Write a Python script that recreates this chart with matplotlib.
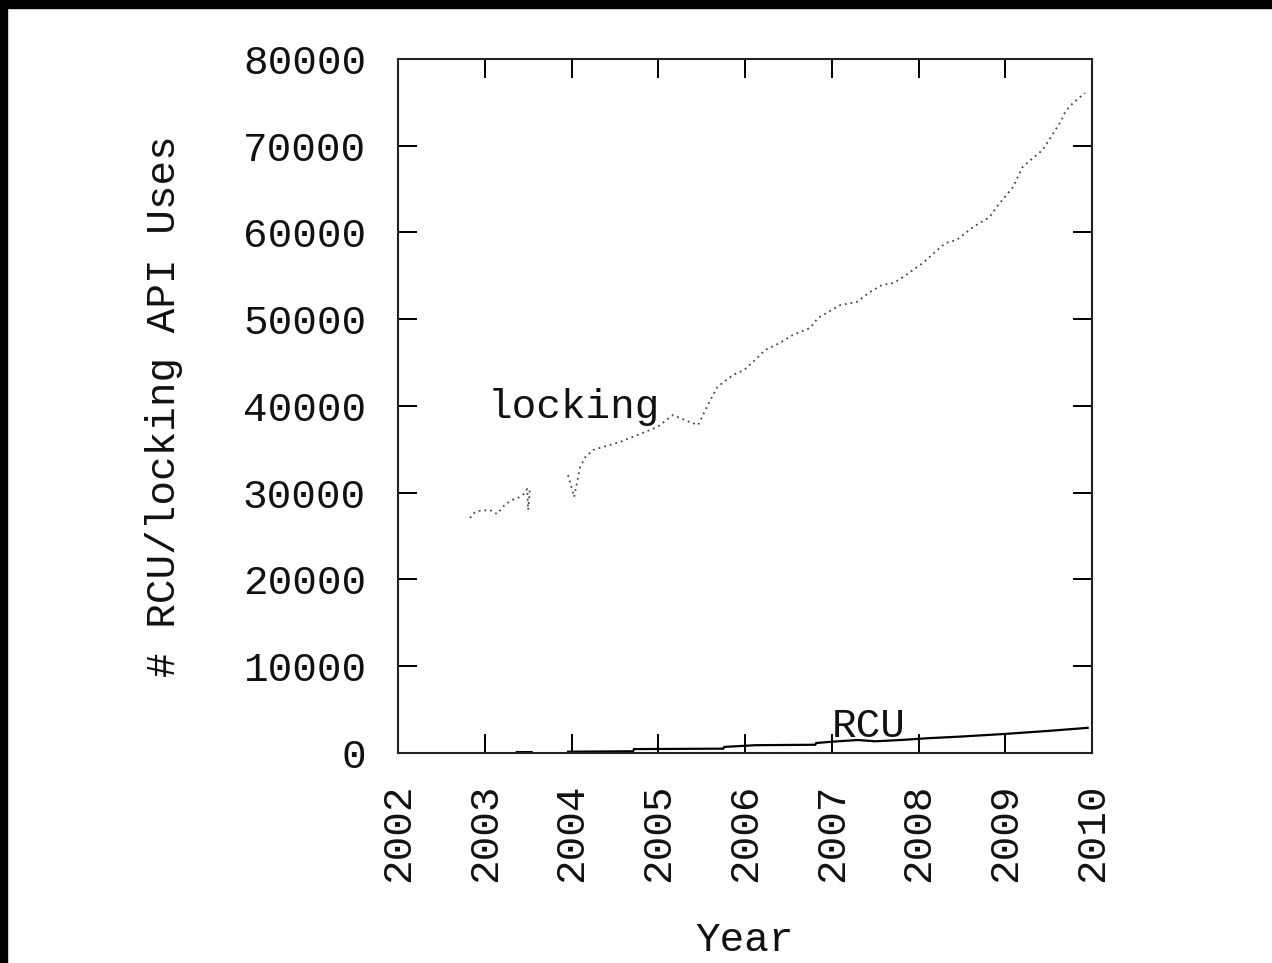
import numpy as np
import matplotlib
matplotlib.use("Agg")
import matplotlib.pyplot as plt
from matplotlib.patches import Rectangle

# ---- data ----
locking_year = [2002.83, 2002.876, 2002.922, 2003.06, 2003.14, 2003.23, 2003.31, 2003.38,
                2003.45, 2003.49, 2003.50, 2003.52, np.nan,
                2003.96, 2004.03, 2004.10, 2004.16, 2004.25, 2004.36, 2004.56, 2004.76,
                2004.99, 2005.17, 2005.33, 2005.46, 2005.56, 2005.68, 2005.86, 2005.99,
                2006.14, 2006.23, 2006.40, 2006.55, 2006.75, 2006.84, 2006.96, 2007.10,
                2007.29, 2007.44, 2007.58, 2007.71, 2007.79, 2008.05, 2008.31, 2008.44,
                2008.63, 2008.82, 2008.90, 2009.09, 2009.20, 2009.32, 2009.43, 2009.52,
                2009.65, 2009.69, 2009.78, 2009.92]
locking_uses = [27090, 27665, 27896, 28010, 27550, 28590, 29160, 29390,
                29855, 30430, 28010, 30430, np.nan,
                32045, 29510, 32970, 34120, 34930, 35270, 35850, 36655,
                37580, 38960, 38270, 37810, 39885, 42190, 43570, 44150,
                45530, 46450, 47260, 48180, 48990, 50140, 50840, 51640,
                51990, 53140, 53950, 54180, 54640, 56480, 58790, 59140,
                60630, 61780, 62940, 65240, 67550, 68590, 69510, 70890,
                72970, 73890, 74930, 76080]

rcu_year = [2003.37, 2003.54, np.nan,
            2003.96, 2004.71, 2004.72, 2005.75, 2005.76, 2006.12, 2006.81, 2006.82,
            2007.0, 2007.3, 2007.5, 2007.8, 2008.1, 2008.5, 2009.0, 2009.5, 2009.95]
rcu_uses = [100, 100, np.nan,
            150, 200, 450, 500, 700, 900, 950, 1150,
            1300, 1500, 1350, 1500, 1700, 1900, 2200, 2550, 2900]

x_ticks = [2002, 2003, 2004, 2005, 2006, 2007, 2008, 2009, 2010]
y_ticks = [0, 10000, 20000, 30000, 40000, 50000, 60000, 70000, 80000]

FONT = "Liberation Mono"
FS = 29.5
TXT = "#111111"

fig = plt.figure(figsize=(12.72, 9.63), dpi=100)
fig.patch.set_facecolor("white")
# black border strips (top and left)
fig.patches.append(Rectangle((0, 1 - 8 / 963), 1, 8 / 963, transform=fig.transFigure,
                             color="black", zorder=10))
fig.patches.append(Rectangle((0, 0), 7 / 1272, 1, transform=fig.transFigure,
                             color="black", zorder=10))

ax = fig.add_axes([398 / 1272, 210 / 963, 694 / 1272, 694 / 963])

ax.plot(locking_year, locking_uses, color="#444444", linewidth=1.3,
        linestyle=(0, (1, 2.2)))
ax.plot(rcu_year, rcu_uses, color="black", linewidth=1.6, solid_joinstyle="miter")

ax.set_xlim(2002, 2010)
ax.set_ylim(0, 80000)
ax.set_xticks(x_ticks)
ax.set_yticks(y_ticks)
ax.set_xticklabels([str(v) for v in x_ticks], rotation=90, fontfamily=FONT, fontsize=FS,
                   color=TXT)
ax.set_yticklabels([str(v) for v in y_ticks], fontfamily=FONT, fontsize=FS, color=TXT)

ax.tick_params(axis="both", direction="in", length=13.5, width=1.4, color="black",
               top=True, right=True)
ax.tick_params(axis="y", pad=23)
ax.tick_params(axis="x", pad=22)
ax.minorticks_off()

for s in ax.spines.values():
    s.set_linewidth(1.5)
    s.set_color("#222222")

ax.set_xlabel("Year", fontfamily=FONT, fontsize=FS, color=TXT, va="baseline")
ax.set_ylabel("# RCU/locking API Uses", fontfamily=FONT, fontsize=FS, color=TXT)
ax.yaxis.set_label_coords(-0.31, 0.5)
ax.xaxis.set_label_coords(0.5, -0.286)

ax.text(2003.03, 38615, "locking", fontfamily=FONT, fontsize=FS, ha="left",
        va="baseline", color=TXT)
ax.text(2007.0, 1900, "RCU", fontfamily=FONT, fontsize=FS, ha="left",
        va="baseline", color=TXT)

fig.savefig("out.png", dpi=100, facecolor="white")
